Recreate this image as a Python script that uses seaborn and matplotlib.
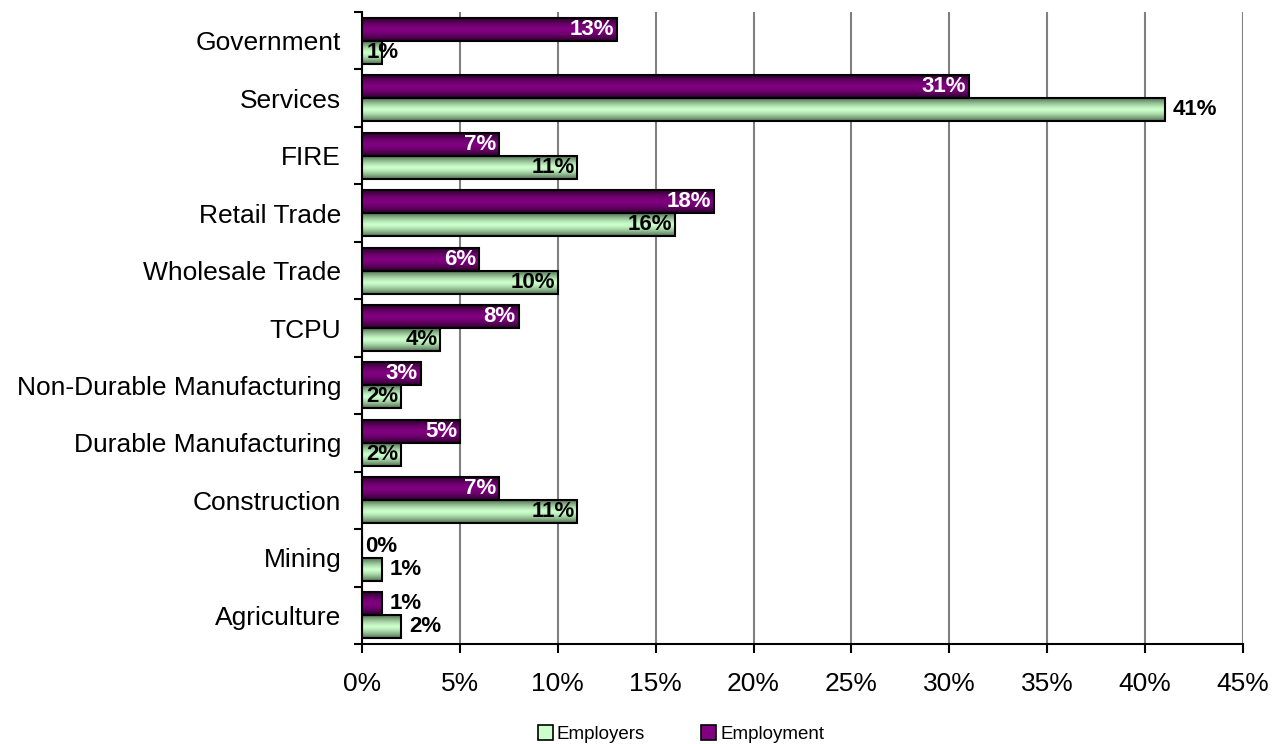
import numpy as np
import pandas as pd
import matplotlib
matplotlib.use("Agg")
import matplotlib.pyplot as plt
import seaborn as sns
from matplotlib.patches import Patch
from matplotlib.colors import to_rgb
from matplotlib.ticker import FuncFormatter, FixedLocator

categories = ["Government", "Services", "FIRE", "Retail Trade", "Wholesale Trade", "TCPU",
              "Non-Durable Manufacturing", "Durable Manufacturing", "Construction", "Mining",
              "Agriculture"]
employment = [13, 31, 7, 18, 6, 8, 3, 5, 7, 0, 1]
employers = [1, 41, 11, 16, 10, 4, 2, 2, 11, 1, 2]
x_ticks = [0, 5, 10, 15, 20, 25, 30, 35, 40, 45]

df = pd.DataFrame({
    "Industry": categories * 2,
    "Share": employment + employers,
    "Series": ["Employment"] * len(categories) + ["Employers"] * len(categories),
})

sns.set_theme(style="white")
plt.rcParams["font.family"] = ["Liberation Sans", "DejaVu Sans"]
plt.rcParams["text.color"] = "black"
plt.rcParams["xtick.color"] = "black"
plt.rcParams["ytick.color"] = "black"

PURPLE = "#800080"
GREEN = "#CCFFCC"

fig = plt.figure(figsize=(12.73, 7.44), dpi=100)
ax = fig.add_axes([362 / 1273, 1 - 644 / 744, (1243 - 362) / 1273, (644 - 12) / 744])

sns.barplot(data=df, y="Industry", x="Share", hue="Series",
            hue_order=["Employment", "Employers"], order=categories,
            palette={"Employment": PURPLE, "Employers": GREEN}, saturation=1,
            orient="h", width=0.8, edgecolor="black", linewidth=1.5,
            legend=False, ax=ax, zorder=3)

# cylinder-like gradient inside each bar
def grad_img(color, dark, power):
    c = np.array(to_rgb(color))
    d = np.array(to_rgb(dark))
    t = np.linspace(0, 1, 64)
    f = 1 - np.abs(2 * t - 1) ** power
    col = d[None, :] * (1 - f[:, None]) + c[None, :] * f[:, None]
    return col[:, None, :]

imgs = {PURPLE: grad_img(PURPLE, "#2a002a", 1.6), GREEN: grad_img(GREEN, "#4f6f4f", 1.4)}
for p in list(ax.patches):
    fc = matplotlib.colors.to_hex(p.get_facecolor()[:3]).upper()
    key = PURPLE if fc == PURPLE.upper() else GREEN
    x0, y0 = p.get_x(), p.get_y()
    w, h = p.get_width(), p.get_height()
    if w <= 0:
        continue
    im = ax.imshow(imgs[key], extent=(x0, x0 + w, y0 + h, y0), aspect="auto",
                   zorder=3.5, interpolation="bilinear")
    im.set_clip_path(p)
    p.set_facecolor("none")
    p.set_zorder(4)

ax.set_xlim(0, 45)
ax.set_ylim(len(categories) - 0.5, -0.5)

# labels
LBL = dict(fontsize=16, fontweight="bold", va="center", zorder=6,
           textcoords="offset points")
outside = {("Employers", "Services"), ("Employers", "Mining"), ("Employers", "Agriculture"),
           ("Employment", "Agriculture")}
for i, cat in enumerate(categories):
    for series, vals, dy, col in (("Employment", employment, -0.2, "white"),
                                  ("Employers", employers, 0.2, "black")):
        v = vals[i]
        y = i + dy
        if v == 0:
            ax.annotate(f"{v}%", (0, y), xytext=(2, 0), ha="left", color="black", **LBL)
        elif (series, cat) in outside:
            ax.annotate(f"{v}%", (v, y), xytext=(6, 0), ha="left", color="black", **LBL)
        elif series == "Employers" and v == 1:
            ax.annotate(f"{v}%", (v, y), xytext=(1, 0), ha="center", color="black", **LBL)
        else:
            ax.annotate(f"{v}%", (v, y), xytext=(-2, 0), ha="right", color=col, **LBL)

# axes styling
ax.set_xlabel("")
ax.set_ylabel("")
ax.xaxis.set_major_locator(FixedLocator(x_ticks))
ax.xaxis.set_major_formatter(FuncFormatter(lambda v, p: f"{v:.0f}%"))
ax.grid(axis="x", color="#808080", linewidth=1.5, zorder=0)
ax.set_axisbelow(True)
for s in ("top", "right"):
    ax.spines[s].set_visible(False)
for s in ("left", "bottom"):
    ax.spines[s].set_color("black")
    ax.spines[s].set_linewidth(1.5)
    ax.spines[s].set_zorder(5)
ax.tick_params(axis="x", which="major", bottom=True, length=6.5, width=1.5, color="black",
               labelsize=19, pad=14, labelcolor="black")
ax.tick_params(axis="y", which="major", left=False, length=0, labelsize=19, pad=15,
               labelcolor="black")
ax.yaxis.set_minor_locator(FixedLocator([i - 0.5 for i in range(len(categories) + 1)]))
ax.tick_params(axis="y", which="minor", left=True, length=6, width=1.5, color="black")

handles = [Patch(facecolor=GREEN, edgecolor="black", linewidth=1.2, label="Employers"),
           Patch(facecolor=PURPLE, edgecolor="black", linewidth=1.2, label="Employment")]
leg = fig.legend(handles=handles, loc="center", bbox_to_anchor=(0.535, 1 - 734 / 744), ncol=2,
                 frameon=False, fontsize=13.5, handlelength=0.8, handleheight=0.8,
                 handletextpad=0.2, columnspacing=3.0)
for t in leg.get_texts():
    t.set_color("black")

fig.savefig("out.png", dpi=100)
